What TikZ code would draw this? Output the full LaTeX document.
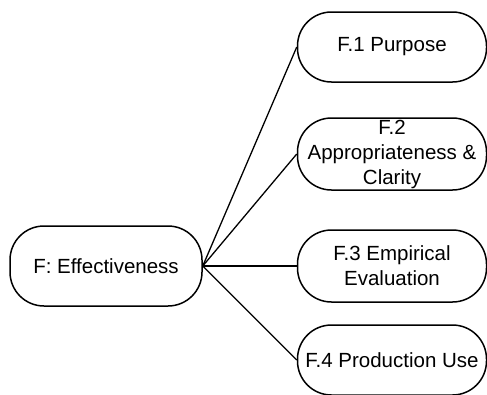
\documentclass[tikz,border=0pt]{standalone}
\usepackage{fontspec}
\setmainfont{Liberation Sans}

\begin{document}
\begin{tikzpicture}[x=1pt, y=-1pt,
    topic/.style={draw, line width=1.5pt, rounded corners=34pt, align=center,
        inner sep=0pt, font=\fontsize{20.5}{25}\selectfont},
    link/.style={line width=1.3pt}]
    \useasboundingbox (0,0) rectangle (487,394);

    % Main criterion
    \node[topic, minimum width=192pt, minimum height=80pt] (eff) at (106,266) {F: Effectiveness};

    % Sub-criteria
    \node[topic, minimum width=189pt, minimum height=70pt] (purpose) at (392,47) {F.1 Purpose};
    \node[topic, minimum width=189pt, minimum height=72pt] (approp) at (392,154) {F.2\\Appropriateness \&\\Clarity};
    \node[topic, minimum width=189pt, minimum height=72pt] (empir) at (392,266) {F.3 Empirical\\Evaluation};
    \node[topic, minimum width=189pt, minimum height=70pt] (prod) at (392,360) {F.4 Production Use};

    % Links
    \foreach \sub in {purpose, approp, empir, prod}
        \draw[link] (eff.east) -- (\sub.west);
\end{tikzpicture}
\end{document}
